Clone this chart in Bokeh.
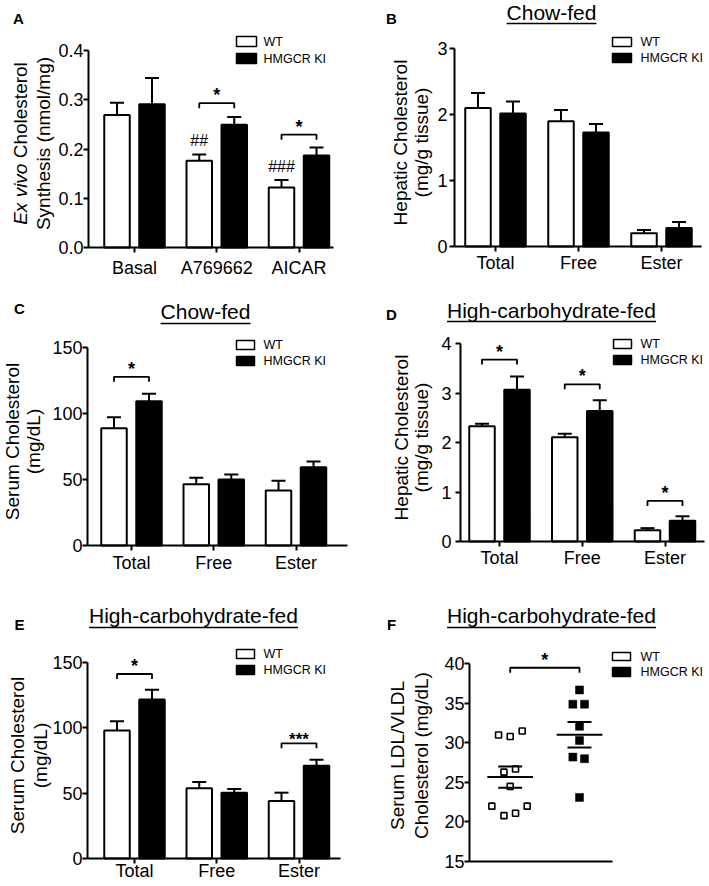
import math
import statistics
from bokeh.plotting import figure
from bokeh.layouts import column, row
from bokeh.models import Range1d, FixedTicker, Label, BoxAnnotation, PrintfTickFormatter
from bokeh.core.properties import value
from bokeh.embed import file_html
from bokeh.resources import INLINE

FONT = "Liberation Sans"

# ---------------- data ----------------
legend_labels = ["WT", "HMGCR KI"]
groups_a = ["Basal", "A769662", "AICAR"]
groups_frac = ["Total", "Free", "Ester"]

a_wt_mean = [0.269, 0.176, 0.122]
a_wt_sem = [0.025, 0.013, 0.015]
a_ki_mean = [0.291, 0.249, 0.187]
a_ki_sem = [0.053, 0.016, 0.016]
a_yticks = [0.0, 0.1, 0.2, 0.3, 0.4]
a_sig = [(2, 0.293, "*"), (3, 0.229, "*")]
a_hash = [(2, "##"), (3, "###")]

b_wt_mean = [2.10, 1.90, 0.20]
b_wt_sem = [0.23, 0.17, 0.05]
b_ki_mean = [2.02, 1.73, 0.28]
b_ki_sem = [0.18, 0.13, 0.09]
b_yticks = [0, 1, 2, 3]

c_wt_mean = [89.0, 46.5, 41.7]
c_wt_sem = [8.4, 4.9, 7.4]
c_ki_mean = [109.5, 50.1, 59.4]
c_ki_sem = [5.6, 3.8, 4.3]
c_yticks = [0, 50, 100, 150]
c_sig = [(1, 128, "*")]

d_wt_mean = [2.33, 2.11, 0.23]
d_wt_sem = [0.05, 0.07, 0.04]
d_ki_mean = [3.07, 2.64, 0.42]
d_ki_sem = [0.27, 0.22, 0.09]
d_yticks = [0, 1, 2, 3, 4]
d_sig = [(1, 3.68, "*"), (2, 3.18, "*"), (3, 0.82, "*")]

e_wt_mean = [97.9, 53.6, 44.0]
e_wt_sem = [6.9, 4.9, 6.3]
e_ki_mean = [121.5, 50.3, 70.9]
e_ki_sem = [7.4, 2.8, 4.6]
e_yticks = [0, 50, 100, 150]
e_sig = [(1, 141, "*"), (3, 88, "***")]

f_wt = [31.0, 30.8, 31.5, 26.3, 26.7, 24.5, 22.0, 20.8, 21.1, 22.0]
f_ki = [36.7, 34.9, 34.9, 32.1, 30.3, 28.2, 28.0, 23.1]
f_yticks = [15, 20, 25, 30, 35, 40]
f_sig_height = 39.5

# ---------------- layout / style constants (page pixels) ----------------
f_wt_jitter = [-0.168, 0.0, 0.173, -0.09, 0.077, 0.0, -0.265, -0.09, 0.077, 0.245]
f_ki_jitter = [0.0, -0.096, 0.072, 0.0, 0.0, -0.096, 0.072, 0.0]

ARIAL_W = {'C': .722, 'h': .556, 'o': .556, 'w': .722, '-': .333, 'f': .278, 'e': .556,
           'd': .556, 'H': .722, 'i': .222, 'g': .556, 'c': .5, 'a': .556, 'r': .333,
           'b': .556, 'y': .5, 't': .278, 'E': .667, 'x': .5, ' ': .278, 'v': .5,
           'l': .222, 's': .5}


def text_width(t, size):
    return sum(ARIAL_W.get(ch, .556) for ch in t) * size


SPECS = {
    "A": dict(fig=(0, 0, 354, 290), axis_x=88, yref=((0, 247), (0.4, 50)),
              xref=(134, 82.25), xend=333, xstand=5, ystand=0,
              letter=(18, 18), ylab=((20, 42.5), 143),
              legend=((236, 256), [(36, 46), (53, 63)], 263), title=None),
    "B": dict(fig=(354, 0, 355, 290), axis_x=454, yref=((0, 246), (3, 48.3)),
              xref=(495, 83), xend=701, xstand=1, ystand=2,
              letter=(391, 17.5), ylab=((400, 421), 142),
              legend=((612, 631), [(37, 46), (53, 62)], 640),
              title=("Chow-fed", 551, 12, 23)),
    "C": dict(fig=(0, 290, 354, 290), axis_x=87, yref=((0, 545), (150, 347.3)),
              xref=(131, 82.25), xend=347, xstand=2, ystand=0,
              letter=(19, 307.5), ylab=((12, 33), 441),
              legend=((236, 254), [(340, 349), (356, 365)], 263),
              title=("Chow-fed", 205, 311, 323)),
    "D": dict(fig=(354, 290, 355, 290), axis_x=460, yref=((0, 541), (4, 343.3)),
              xref=(499, 82.75), xend=704, xstand=1, ystand=4,
              letter=(391, 314), ylab=((401, 421), 437),
              legend=((613, 631), [(339, 348), (355, 364)], 640),
              title=("High-carbohydrate-fed", 551, 310, 321)),
    "E": dict(fig=(0, 580, 354, 304), axis_x=87, yref=((0, 858), (150, 661.7)),
              xref=(134, 82.25), xend=340, xstand=-3, ystand=0,
              letter=(19, 624), ylab=((17, 40), 755),
              legend=((236, 254), [(649, 658), (665, 674)], 263),
              title=("High-carbohydrate-fed", 193, 615, 627)),
    "F": dict(fig=(354, 580, 355, 304), axis_x=469, yref=((15, 861), (40, 663.3)),
              xref=(509.7, 69.3), xend=612, xstand=0, ystand=0,
              letter=(391, 624), ylab=((397, 421), 755),
              legend=((612, 630), [(652, 660), (667, 676)], 640),
              title=("High-carbohydrate-fed", 551, 615, 627)),
}

YLABELS = {
    "A": [None, "Synthesis (nmol/mg)"],
    "B": ["Hepatic Cholesterol", "(mg/g tissue)"],
    "C": ["Serum Cholesterol", "(mg/dL)"],
    "D": ["Hepatic Cholesterol", "(mg/g tissue)"],
    "E": ["Serum Cholesterol", "(mg/dL)"],
    "F": ["Serum LDL/VLDL", "Cholesterol (mg/dL)"],
}


def label(p, x, y, text, size, style="normal", align="center", baseline="middle", angle=0.0):
    p.add_layout(Label(x=x, y=y, text=text, text_font=FONT, text_font_size=size,
                       text_font_style=style, text_align=align, text_baseline=baseline,
                       angle=angle, text_color="black"))


def make_panel(key, yticks, xlabels):
    s = SPECS[key]
    fx0, fy0, fw, fh = s["fig"]
    (v0, p0), (v1, p1) = s["yref"]
    ppu = (p0 - p1) / (v1 - v0)
    c1, ux = s["xref"]

    def y_of(px):
        return v0 + (p0 - px) / ppu

    def x_of(px):
        return 1 + (px - c1) / ux

    p = figure(width=fw, height=fh, x_range=Range1d(x_of(fx0), x_of(fx0 + fw)),
               y_range=Range1d(y_of(fy0 + fh), y_of(fy0)), output_backend="svg",
               toolbar_location=None, min_border_left=0, min_border_right=0,
               min_border_top=0, min_border_bottom=0)
    p.grid.visible = False
    p.outline_line_color = None
    for ax in (p.xaxis[0], p.yaxis[0]):
        ax.axis_line_width = 2
        ax.axis_line_color = "black"
        ax.major_tick_line_width = 2
        ax.major_tick_line_color = "black"
        ax.major_tick_out = 5
        ax.major_tick_in = 0
        ax.minor_tick_line_color = None
        ax.major_label_text_font = FONT
        ax.major_label_text_font_size = "18px"
        ax.major_label_text_color = "black"
    p.yaxis.fixed_location = x_of(s["axis_x"])
    p.xaxis.fixed_location = v0
    p.yaxis.ticker = FixedTicker(ticks=yticks)
    p.yaxis.bounds = (yticks[0], yticks[-1])
    p.yaxis.major_label_standoff = s["ystand"]
    p.xaxis.bounds = (x_of(s["axis_x"]), x_of(s["xend"]))
    p.xaxis.major_label_standoff = s["xstand"]
    if xlabels:
        p.xaxis.ticker = FixedTicker(ticks=[1, 2, 3])
        p.xaxis.major_label_overrides = {i + 1: t for i, t in enumerate(xlabels)}
    else:
        p.xaxis.ticker = FixedTicker(ticks=[])
        p.xaxis.major_tick_out = 0

    # panel letter
    lx, ly = s["letter"]
    label(p, x_of(lx), y_of(ly), key, "15px", style="bold")

    # y-axis label (two lines, rotated)
    (l1x, l2x), ycen = s["ylab"]
    lines = YLABELS[key]
    if lines[0] is not None:
        label(p, x_of(l1x), y_of(ycen), lines[0], "19px", angle=math.pi / 2)
    label(p, x_of(l2x), y_of(ycen), lines[1], "19px", angle=math.pi / 2)

    # legend
    (bx0, bx1), rows, tx = s["legend"]
    for name, fill, (yt, yb) in zip(legend_labels, ["white", "black"], rows):
        p.add_layout(BoxAnnotation(left=x_of(bx0), right=x_of(bx1), top=y_of(yt), bottom=y_of(yb),
                                   fill_color=fill, fill_alpha=1, line_color="black",
                                   line_alpha=1, line_width=1.5))
        label(p, x_of(tx), y_of((yt + yb) / 2), name, "12.5px", align="left")

    # underlined title
    if s["title"]:
        t, cx, cy, ul = s["title"]
        label(p, x_of(cx), y_of(cy), t, "21px")
        w = text_width(t, 21)
        p.add_layout(BoxAnnotation(left=x_of(cx - w / 2), right=x_of(cx + w / 2),
                                   top=y_of(ul - 0.8), bottom=y_of(ul + 0.8), fill_color="black",
                                   fill_alpha=1, line_color=None))
    return p, x_of, y_of, ppu, ux


def add_bars(p, ux, wt_mean, wt_sem, ki_mean, ki_sem):
    off, w, cap = 17.5 / ux, 25.5 / ux, 7 / ux
    for sign, mean, sem, fill in ((-1, wt_mean, wt_sem, "white"), (1, ki_mean, ki_sem, "black")):
        xs = [g + sign * off for g in (1, 2, 3)]
        tops = [m + e for m, e in zip(mean, sem)]
        p.segment(x0=xs, y0=mean, x1=xs, y1=tops, line_color="black", line_width=2)
        p.segment(x0=[x - cap for x in xs], y0=tops, x1=[x + cap for x in xs], y1=tops,
                  line_color="black", line_width=2)
        p.vbar(x=xs, top=mean, bottom=0, width=w, fill_color=fill, line_color="black", line_width=2)


def add_bracket(p, x1, x2, h, leg, star, size="18px", yoff=-8):
    p.multi_line(xs=[[x1, x1, x2, x2]], ys=[[h - leg, h, h, h - leg]], line_color="black",
                 line_width=1.8)
    p.text(x=[(x1 + x2) / 2], y=[h], text=[star], text_font=value(FONT), text_font_size=size,
           text_font_style="bold", text_align="center", text_baseline="alphabetic",
           y_offset=yoff, text_color="black")


def add_sig(p, ux, ppu, sig):
    off = 17.5 / ux
    for g, h, st in sig:
        add_bracket(p, g - off, g + off, h, 5 / ppu, st, size="18px" if st == "*" else "17px",
                    yoff=-8 if st == "*" else -4)


# A
pA, xA, yA, ppuA, uxA = make_panel("A", a_yticks, groups_a)
pA.yaxis.formatter = PrintfTickFormatter(format="%.1f")
add_bars(pA, uxA, a_wt_mean, a_wt_sem, a_ki_mean, a_ki_sem)
add_sig(pA, uxA, ppuA, a_sig)
for g, h in a_hash:
    i = g - 1
    pA.text(x=[g - 17.5 / uxA], y=[a_wt_mean[i] + a_wt_sem[i]], text=[h], text_font=value(FONT),
            text_font_size="16px", text_align="center", text_baseline="alphabetic", y_offset=-14,
            text_color="black")
# first line of A's y label: italic "Ex vivo" + upright "Cholesterol"
line1_it, line1_rm = "Ex vivo", "Cholesterol"
tot = text_width(line1_it + " " + line1_rm, 19)
start = 143 + tot / 2
label(pA, xA(20), yA(start), line1_it, "19px", style="italic", align="left", angle=math.pi / 2)
label(pA, xA(20), yA(start - text_width(line1_it + " ", 19)), line1_rm, "19px", align="left",
      angle=math.pi / 2)

# B
pB, xB, yB, ppuB, uxB = make_panel("B", b_yticks, groups_frac)
add_bars(pB, uxB, b_wt_mean, b_wt_sem, b_ki_mean, b_ki_sem)

# C
pC, xC, yC, ppuC, uxC = make_panel("C", c_yticks, groups_frac)
add_bars(pC, uxC, c_wt_mean, c_wt_sem, c_ki_mean, c_ki_sem)
add_sig(pC, uxC, ppuC, c_sig)

# D
pD, xD, yD, ppuD, uxD = make_panel("D", d_yticks, groups_frac)
add_bars(pD, uxD, d_wt_mean, d_wt_sem, d_ki_mean, d_ki_sem)
add_sig(pD, uxD, ppuD, d_sig)

# E
pE, xE, yE, ppuE, uxE = make_panel("E", e_yticks, groups_frac)
add_bars(pE, uxE, e_wt_mean, e_wt_sem, e_ki_mean, e_ki_sem)
add_sig(pE, uxE, ppuE, e_sig)

# F
pF, xF, yF, ppuF, uxF = make_panel("F", f_yticks, None)
pF.scatter(x=[1 + j for j in f_wt_jitter], y=f_wt, marker="square", size=6, fill_color="white",
           line_color="black", line_width=1.6)
pF.scatter(x=[2 + j for j in f_ki_jitter], y=f_ki, marker="square", size=8, fill_color="black",
           line_color="black", line_width=0.5)
for c, vals in ((1, f_wt), (2, f_ki)):
    m = statistics.mean(vals)
    se = statistics.stdev(vals) / math.sqrt(len(vals))
    pF.segment(x0=[c - 0.33], y0=[m], x1=[c + 0.33], y1=[m], line_color="black", line_width=2)
    pF.segment(x0=[c - 0.173, c - 0.173], y0=[m + se, m - se], x1=[c + 0.173, c + 0.173],
               y1=[m + se, m - se], line_color="black", line_width=2)
add_bracket(pF, 1, 2, f_sig_height, 5 / ppuF, "*")

layout = column(row(pA, pB), row(pC, pD), row(pE, pF))
open("out.html", "w").write(file_html(layout, INLINE))
